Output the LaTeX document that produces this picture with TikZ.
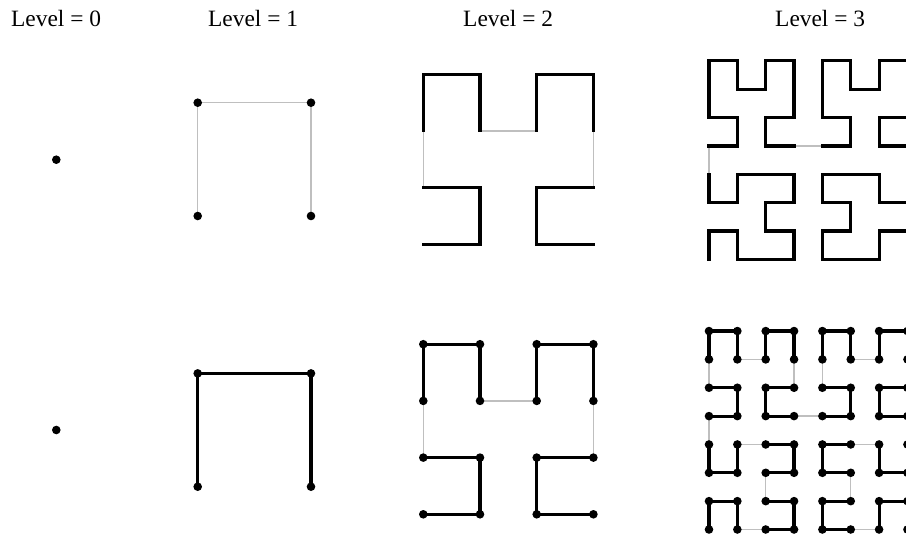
\documentclass[tikz,border=0pt]{standalone}
\usepackage{fontspec}
\setmainfont{Liberation Serif}

\tikzset{
  curveseg/.style={black,line width=3.2pt,line cap=rect,line join=miter},
  linkseg/.style={black!25,line width=1.4pt},
  dotfill/.style={fill=black},
  levellabel/.style={anchor=base west,inner sep=0pt,font=\fontsize{23.4}{28}\selectfont},
}

% grid points of the Hilbert curve, level by level
\def\hilbone{0/0,0/1,1/1,1/0}
\def\hilbtwo{0/0,1/0,1/1,0/1,0/2,0/3,1/3,1/2,2/2,2/3,3/3,3/2,3/1,2/1,2/0,3/0}
\def\hilbthree{0/0,0/1,1/1,1/0,2/0,3/0,3/1,2/1,2/2,3/2,3/3,2/3,1/3,1/2,0/2,0/3,%
  0/4,1/4,1/5,0/5,0/6,0/7,1/7,1/6,2/6,2/7,3/7,3/6,3/5,2/5,2/4,3/4,%
  4/4,5/4,5/5,4/5,4/6,4/7,5/7,5/6,6/6,6/7,7/7,7/6,7/5,6/5,6/4,7/4,%
  7/3,7/2,6/2,6/3,5/3,4/3,4/2,5/2,5/1,4/1,4/0,5/0,6/0,6/1,7/1,7/0}

% #1 name, #2 point list, #3 x0, #4 y0, #5 step, #6 points per block, #7 blocks
\newcommand{\hilbcurve}[7]{%
  \foreach \gx/\gy [count=\k from 0] in #2
    \coordinate (#1-\k) at ({#3+\gx*#5},{#4-\gy*#5});
  % thin links between the blocks
  \foreach \b in {1,...,#7}{%
    \ifnum\b<#7
      \pgfmathtruncatemacro\klast{\b*#6-1}
      \pgfmathtruncatemacro\kjump{\klast+1}
      \draw[linkseg] (#1-\klast) -- (#1-\kjump);
    \fi
  }%
  % thick runs inside the blocks
  \ifnum#6>1
    \foreach \b in {1,...,#7}{%
      \pgfmathtruncatemacro\kfirst{(\b-1)*#6}
      \pgfmathtruncatemacro\knext{\kfirst+1}
      \pgfmathtruncatemacro\klast{\kfirst+#6-1}
      \draw[curveseg] (#1-\kfirst) \foreach \k in {\knext,...,\klast}{ -- (#1-\k)};
    }%
  \fi
}

\begin{document}
\begin{tikzpicture}[x=1pt,y=-1pt]
\clip (0,0) rectangle (906,535);

% ---- Titles ----
\node[levellabel] (lev0) at (11,26.5)  {Level = 0};
\node[levellabel] (lev1) at (208,26.5) {Level = 1};
\node[levellabel] (lev2) at (463,26.5) {Level = 2};
\node[levellabel] (lev3) at (775,26.5) {Level = 3};

% ---- Level 0 ----
\coordinate (t0-0) at (56.3,159.7);
\coordinate (b0-0) at (56.3,430);
\fill[dotfill] (t0-0) circle[radius=4.3pt];
\fill[dotfill] (b0-0) circle[radius=4.3pt];

% ---- Top row: blocks of the previous level ----
\hilbcurve{t1}{\hilbone}{197.7}{216}{113.3}{1}{4}
\foreach \k in {0,...,3} \fill[dotfill] (t1-\k) circle[radius=4.3pt];
\hilbcurve{t2}{\hilbtwo}{423.3}{244.3}{56.7}{4}{4}
\hilbcurve{t3}{\hilbthree}{709}{259.3}{28.35}{16}{4}

% ---- Bottom row: blocks of level 1, with points ----
\hilbcurve{b1}{\hilbone}{197.7}{486.7}{113.3}{4}{1}
\foreach \k in {0,...,3} \fill[dotfill] (b1-\k) circle[radius=4.3pt];
\hilbcurve{b2}{\hilbtwo}{423.3}{514.3}{56.7}{4}{4}
\foreach \k in {0,...,15} \fill[dotfill] (b2-\k) circle[radius=4.3pt];
\hilbcurve{b3}{\hilbthree}{709}{529.5}{28.35}{4}{16}
\foreach \k in {0,...,63} \fill[dotfill] (b3-\k) circle[radius=4.3pt];
\end{tikzpicture}
\end{document}
